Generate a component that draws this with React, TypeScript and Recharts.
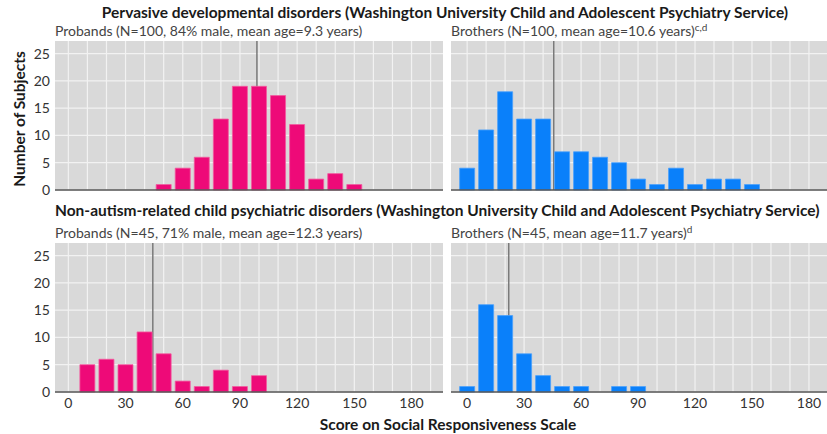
import { BarChart, Bar, XAxis, YAxis, CartesianGrid, ReferenceLine } from 'recharts';

// score bins (midpoints) and subject counts per panel
const pddProbandBins = [50, 60, 70, 80, 90, 100, 110, 120, 130, 140, 150];
const pddProbandCounts = [1, 4, 6, 13, 19, 19, 17.3, 12, 2, 3, 1];
const pddProbandMean = 98.9;

const pddBrotherBins = [0, 10, 20, 30, 40, 50, 60, 70, 80, 90, 100, 110, 120, 130, 140, 150];
const pddBrotherCounts = [4, 11, 18, 13, 13, 7, 7, 6, 5, 2, 1, 4, 1, 2, 2, 1];
const pddBrotherMean = 45.6;

const psyProbandBins = [10, 20, 30, 40, 50, 60, 70, 80, 90, 100];
const psyProbandCounts = [5, 6, 5, 11, 7, 2, 1, 4, 1, 3];
const psyProbandMean = 44.3;

const psyBrotherBins = [0, 10, 20, 30, 40, 50, 60, 70, 80, 90];
const psyBrotherCounts = [1, 16, 14, 7, 3, 1, 1, 0, 1, 1];
const psyBrotherMean = 21.9;

const xTicks = [0, 30, 60, 90, 120, 150, 180];
const yTicks = [0, 5, 10, 15, 20, 25];
const gridX = [0, 10, 20, 30, 40, 50, 60, 70, 80, 90, 100, 110, 120, 130, 140, 150, 160, 170, 180, 190];

const PINK = '#ee0a78';
const BLUE = '#0a80fa';
const FONT = 'Lato, "Open Sans", sans-serif';

const toRows = (bins: number[], counts: number[]) =>
  bins.map((score, i) => ({ score, count: counts[i] }));

interface PanelProps {
  bins: number[];
  counts: number[];
  mean: number;
  color: string;
  left: number;
  top: number;
  showY: boolean;
  showX: boolean;
}

function Panel({ bins, counts, mean, color, left, top, showY, showX }: PanelProps) {
  const width = showY ? 445 : 381;
  const domain = showY ? [-7, 196.5] : [-8.5, 189.5];
  const height = showX ? 178 : 164;
  return (
    <div style={{ position: 'absolute', left, top }}>
      <BarChart
        width={width}
        height={height}
        data={toRows(bins, counts)}
        margin={{ top: 5, right: showY ? 2 : 0, left: showY ? 0 : 5, bottom: showX ? 0 : 10 }}
        barCategoryGap={0}
      >
        <CartesianGrid
          fill="#d9d9d9"
          stroke="#f2f2f2"
          strokeWidth={1.2}
          verticalValues={gridX}
          horizontalValues={yTicks}
        />
        <XAxis
          dataKey="score"
          type="number"
          domain={domain}
          ticks={xTicks}
          interval={0}
          hide={!showX}
          height={24}
          axisLine={false}
          tickLine={false}
          tickSize={0}
          tickMargin={6}
          tick={{ fontSize: 14, fill: '#333', fontFamily: FONT }}
        />
        <YAxis
          type="number"
          domain={[0, 27.3]}
          ticks={yTicks}
          interval={0}
          hide={!showY}
          width={55}
          axisLine={false}
          tickLine={false}
          tickSize={0}
          tickMargin={5}
          tick={{ fontSize: 14, fill: '#333', fontFamily: FONT }}
        />
        <ReferenceLine x={mean} stroke="#7a7a7a" strokeWidth={1.5} zIndex={250} />
        <Bar
          dataKey="count"
          fill={color}
          stroke={color === PINK ? '#f25a9e' : '#4aa0fb'}
          strokeWidth={0.8}
          barSize={15}
          isAnimationActive={false}
        />
        <ReferenceLine y={0} stroke="#555" strokeWidth={1.6} />
      </BarChart>
    </div>
  );
}

export default function App() {
  return (
    <div
      style={{
        position: 'absolute',
        left: 0,
        top: 0,
        width: 827,
        height: 434,
        background: '#fff',
        overflow: 'hidden',
        fontFamily: FONT,
      }}
    >
      <Panel bins={pddProbandBins} counts={pddProbandCounts} mean={pddProbandMean} color={PINK} left={0} top={36} showY showX={false} />
      <Panel bins={pddBrotherBins} counts={pddBrotherCounts} mean={pddBrotherMean} color={BLUE} left={446} top={36} showY={false} showX={false} />
      <Panel bins={psyProbandBins} counts={psyProbandCounts} mean={psyProbandMean} color={PINK} left={0} top={238} showY showX />
      <Panel bins={psyBrotherBins} counts={psyBrotherCounts} mean={psyBrotherMean} color={BLUE} left={446} top={238} showY={false} showX />

      <svg
        width={827}
        height={434}
        style={{ position: 'absolute', left: 0, top: 0, pointerEvents: 'none' }}
        fontFamily={FONT}
      >
        <text x={445} y={18} textAnchor="middle" fontSize={15.5} fontWeight={700} fill="#1a1a1a">
          Pervasive developmental disorders (Washington University Child and Adolescent Psychiatry Service)
        </text>
        <text x={55} y={35.5} fontSize={14} fill="#444">
          Probands (N=100, 84% male, mean age=9.3 years)
        </text>
        <text x={451} y={35.5} fontSize={14} fill="#444">
          Brothers (N=100, mean age=10.6 years)
          <tspan dy={-5} fontSize={10}>c,d</tspan>
        </text>
        <text x={55} y={216} fontSize={15.5} fontWeight={700} fill="#1a1a1a">
          Non-autism-related child psychiatric disorders (Washington University Child and Adolescent Psychiatry Service)
        </text>
        <text x={55} y={237.5} fontSize={14} fill="#444">
          Probands (N=45, 71% male, mean age=12.3 years)
        </text>
        <text x={451} y={237.5} fontSize={14} fill="#444">
          Brothers (N=45, mean age=11.7 years)
          <tspan dy={-5} fontSize={10}>d</tspan>
        </text>
        <text
          transform="translate(25,119) rotate(-90)"
          textAnchor="middle"
          fontSize={15.5}
          fontWeight={700}
          fill="#1a1a1a"
        >
          Number of Subjects
        </text>
        <text x={448} y={430} textAnchor="middle" fontSize={15.5} fontWeight={700} fill="#1a1a1a">
          Score on Social Responsiveness Scale
        </text>
      </svg>
    </div>
  );
}
